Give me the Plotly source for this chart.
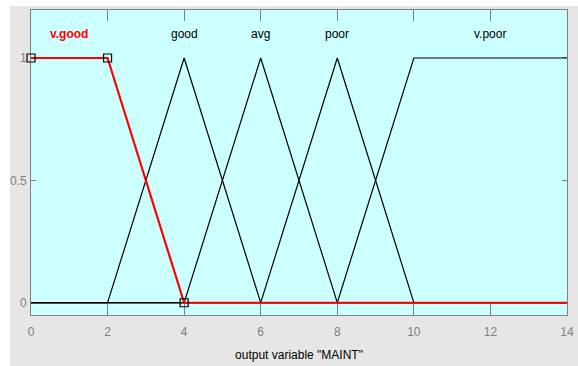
import plotly.graph_objects as go

# Membership function breakpoints (output variable "MAINT")
vgood_x = [0, 2, 4, 14]
vgood_y = [1, 1, 0, 0]
vgood_marker_x = [0, 2, 4]
vgood_marker_y = [1, 1, 0]
good_x = [0, 2, 4, 6, 14]
good_y = [0, 0, 1, 0, 0]
avg_x = [0, 4, 6, 8, 14]
avg_y = [0, 0, 1, 0, 0]
poor_x = [0, 6, 8, 10, 14]
poor_y = [0, 0, 1, 0, 0]
vpoor_x = [0, 8, 10, 14]
vpoor_y = [0, 0, 1, 1]

label_names = ["v.good", "good", "avg", "poor", "v.poor"]
label_x = [1, 4, 6, 8, 12]
label_y = [1.1, 1.1, 1.1, 1.1, 1.1]
label_colors = ["#ff0000", "#000000", "#000000", "#000000", "#000000"]

x_ticks = [0, 2, 4, 6, 8, 10, 12, 14]
y_ticks = [0, 0.5, 1]

FONT = "Liberation Sans, Arial"

fig = go.Figure()
for xs, ys in [(good_x, good_y), (avg_x, avg_y), (poor_x, poor_y), (vpoor_x, vpoor_y)]:
    fig.add_trace(go.Scatter(x=xs, y=ys, mode="lines",
                             line=dict(color="#000000", width=1.2),
                             showlegend=False, hoverinfo="skip", cliponaxis=False))
fig.add_trace(go.Scatter(x=vgood_x, y=vgood_y, mode="lines",
                         line=dict(color="#ff0000", width=2.2),
                         showlegend=False, hoverinfo="skip", cliponaxis=False))
fig.add_trace(go.Scatter(x=vgood_marker_x, y=vgood_marker_y, mode="markers",
                         marker=dict(symbol="square-open", size=8,
                                     color="#000000", line=dict(width=1.2)),
                         showlegend=False, hoverinfo="skip", cliponaxis=False))

for name, lx, ly, c in zip(label_names, label_x, label_y, label_colors):
    fig.add_annotation(x=lx, y=ly, text=name, showarrow=False,
                       font=dict(family=FONT, size=12, color=c,
                                 weight="bold" if c == "#ff0000" else "normal"))

axis_common = dict(showgrid=False, zeroline=False, showline=True, mirror="ticks",
                   linecolor="#808080", linewidth=1, ticks="inside",
                   tickcolor="#808080", automargin=False, layer="below traces",
                   tickfont=dict(family=FONT, size=12, color="#808080"))

fig.update_xaxes(range=[0, 14], tickvals=x_ticks, ticktext=[str(v) for v in x_ticks],
                 ticklabelstandoff=6, ticklen=11,
                 title=dict(text='output variable "MAINT"', standoff=12,
                            font=dict(family=FONT, size=12, color="#000000")),
                 **axis_common)
fig.update_yaxes(range=[-0.05, 1.196], tickvals=y_ticks, ticktext=["0", "0.5", "1"],
                 ticklabelstandoff=1, ticklen=5,
                 **axis_common)

fig.update_layout(
    width=578, height=366,
    margin=dict(l=31, r=11, t=10, b=51),
    paper_bgcolor="rgba(0,0,0,0)",
    plot_bgcolor="#ccffff",
)

# page: white, with the grey panel starting at (10, 6)
fig.write_html("out.html", config={"displayModeBar": False},
               post_script="document.body.style.margin='0px';"
                           "document.body.style.overflow='hidden';"
                           "document.body.style.background="
                           "'linear-gradient(#e6e6e6,#e6e6e6) 10px 6px / 568px 360px no-repeat, #ffffff';")
